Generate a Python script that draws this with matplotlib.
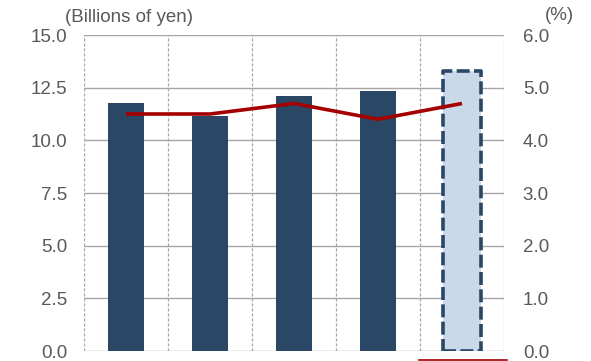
import matplotlib
matplotlib.use("Agg")
import matplotlib.pyplot as plt
from matplotlib.lines import Line2D

plt.rcParams['font.family'] = ['Liberation Sans', 'DejaVu Sans']

# Data
categories = ["FY1", "FY2", "FY3", "FY4", "FY5 (forecast)"]
amounts = [11.76, 11.15, 12.12, 12.34, 13.29]          # billions of yen
ratio = [4.5, 4.5, 4.7, 4.4, 4.7]                       # percent
forecast_flags = [False, False, False, False, True]
left_ticks = [0.0, 2.5, 5.0, 7.5, 10.0, 12.5, 15.0]
right_ticks = [0.0, 1.0, 2.0, 3.0, 4.0, 5.0, 6.0]

bar_color = "#2A4766"
forecast_fill = "#C9D9EA"
line_color = "#A50000"
text_color = "#595959"
grid_color = "#A6A6A6"

fig = plt.figure(figsize=(5.91, 3.61), dpi=100)
ax = fig.add_axes([84 / 591, 10 / 361, 420 / 591, 316 / 361])
ax2 = ax.twinx()

x = [i + 0.5 for i in range(len(categories))]

for xi, val, fc in zip(x, amounts, forecast_flags):
    if fc:
        ax.bar(xi, val, width=0.46, facecolor=forecast_fill, edgecolor=bar_color,
               linewidth=2.6, linestyle=(0, (3.6, 1.2)), joinstyle='round', zorder=3)
    else:
        ax.bar(xi, val, width=0.44, color=bar_color, zorder=3)

ax2.plot(x, ratio, color=line_color, linewidth=2.6, zorder=4, solid_capstyle='butt')

ax.set_xlim(0, len(categories))
ax.set_ylim(0, 15)
ax2.set_ylim(0, 6)
ax.set_yticks(left_ticks)
ax.set_yticklabels([f"{t:.1f}" for t in left_ticks])
ax2.set_yticks(right_ticks)
ax2.set_yticklabels([f"{t:.1f}" for t in right_ticks])
ax.set_xticks([])

# Horizontal solid grid, vertical dashed separators between categories
for t in left_ticks:
    ax.axhline(t, color=grid_color, linewidth=1.0, zorder=1)
for b in range(len(categories) + 1):
    ax.axvline(b, color=grid_color, linewidth=0.9, linestyle=(0, (2.5, 1.5)), zorder=1)

for a in (ax, ax2):
    for s in a.spines.values():
        s.set_visible(False)
    a.tick_params(axis='both', length=0, labelsize=13.5, colors=text_color)
ax.tick_params(axis='y', pad=12)
ax2.tick_params(axis='y', pad=13.5)
ax2.patch.set_visible(False)

fig.text(65 / 591, 1 - 18 / 361, "(Billions of yen)", fontsize=13.5, color=text_color,
         ha='left', va='center')
fig.text(545 / 591, 1 - 15 / 361, "(%)", fontsize=13.5, color=text_color,
         ha='left', va='center')

fig.add_artist(Line2D([419 / 591, 507 / 591], [1.5 / 361, 1.5 / 361],
                      color=line_color, linewidth=1.2, transform=fig.transFigure))

fig.savefig("out.png", dpi=100)
